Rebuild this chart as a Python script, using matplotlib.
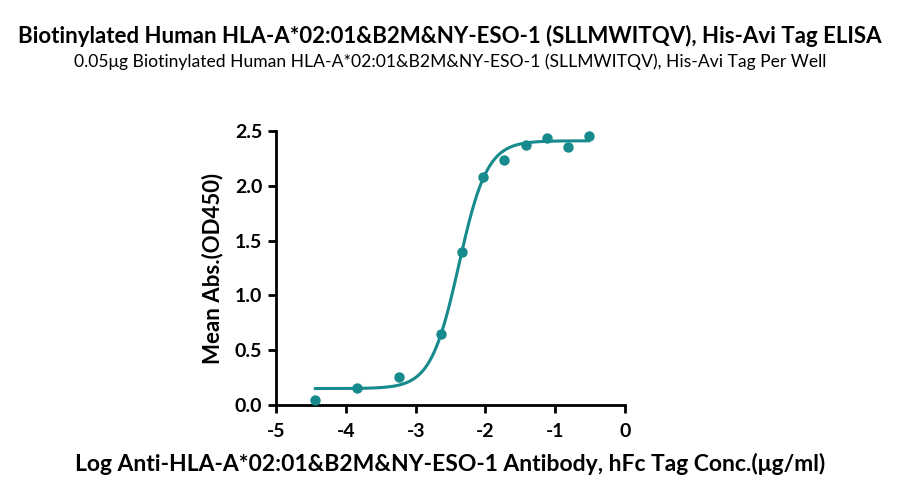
import numpy as np
import matplotlib
matplotlib.use("Agg")
from matplotlib import pyplot as plt

# dilution series, log10 conc (ug/ml)
log_conc = [-4.437, -3.835, -3.233, -2.630, -2.329, -2.028, -1.727, -1.426, -1.125, -0.824, -0.523]
od450 = [0.046, 0.158, 0.258, 0.650, 1.393, 2.077, 2.238, 2.375, 2.436, 2.357, 2.457]

# 4PL fit params
bottom, top, log_ec50, hill = 0.15, 2.41, -2.38, 2.15

color = '#168a8c'
plt.rcParams['font.family'] = ['Lato', 'DejaVu Sans']

fig = plt.figure(figsize=(9, 4.96), dpi=100)
ax = fig.add_axes([0.3067, 0.1835, 0.3878, 0.5525])

xf = np.linspace(min(log_conc), max(log_conc), 300)
yf = bottom + (top - bottom) / (1 + 10 ** (hill * (log_ec50 - xf)))
ax.plot(xf, yf, color=color, lw=2.2, zorder=2)
ax.scatter(log_conc, od450, s=42, color=color, zorder=3, clip_on=False)

ax.set_xlim(-5, 0)
ax.set_ylim(0, 2.5)
ax.set_xticks([-5, -4, -3, -2, -1, 0])
ax.set_yticks([0, 0.5, 1.0, 1.5, 2.0, 2.5])
ax.set_xticklabels(['-5', '-4', '-3', '-2', '-1', '0'])
ax.set_yticklabels(['0.0', '0.5', '1.0', '1.5', '2.0', '2.5'])
for s in ['top', 'right']:
    ax.spines[s].set_visible(False)
for s in ['left', 'bottom']:
    ax.spines[s].set_linewidth(2)
ax.tick_params(width=2, length=6, labelsize=14)
ax.tick_params(axis='x', pad=7)
ax.tick_params(axis='y', pad=4)
for lab in ax.get_xticklabels() + ax.get_yticklabels():
    lab.set_fontweight('bold')

ax.set_xlabel('Log Anti-HLA-A*02:01&B2M&NY-ESO-1 Antibody, hFc Tag Conc.(\u03bcg/ml)',
              fontsize=16.5, fontweight='bold', labelpad=9)
ax.set_ylabel('Mean Abs.(OD450)', fontsize=16, fontweight='bold', labelpad=8)

fig.text(0.5, 0.928, 'Biotinylated Human HLA-A*02:01&B2M&NY-ESO-1 (SLLMWITQV), His-Avi Tag ELISA',
         ha='center', va='center', fontsize=16, fontweight='bold')
fig.text(0.5, 0.875, '0.05\u03bcg Biotinylated Human HLA-A*02:01&B2M&NY-ESO-1 (SLLMWITQV), His-Avi Tag Per Well',
         ha='center', va='center', fontsize=12.6)

fig.savefig('out.png', dpi=100)
